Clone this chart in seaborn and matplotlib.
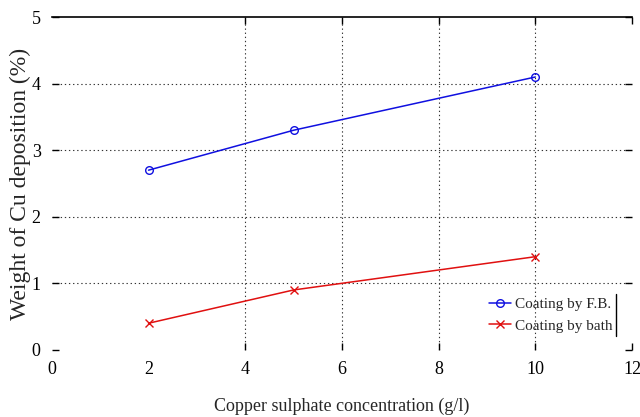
import matplotlib
matplotlib.use('Agg')
import matplotlib.pyplot as plt
import seaborn as sns
from matplotlib.lines import Line2D

# Data
concentration = [2, 5, 10]
coating_fb = [2.7, 3.3, 4.1]
coating_bath = [0.4, 0.9, 1.4]
series_names = ['Coating by F.B.', 'Coating by bath']
x_ticks = [0, 2, 4, 6, 8, 10, 12]
y_ticks = [0, 1, 2, 3, 4, 5]

sns.set_theme(style='white')
plt.rcParams['font.family'] = ['Liberation Serif', 'DejaVu Serif']

series = [
    (coating_fb, '#1010e0', 'o'),
    (coating_bath, '#e01010', 'x'),
]

fig = plt.figure(figsize=(6.4, 4.17), dpi=100)
ax = fig.add_axes([0.081, 0.161, 0.9065, 0.798])

for values, color, marker in series:
    sns.lineplot(x=concentration, y=values, color=color, marker=marker,
                 linewidth=1.1, markersize=5.5, ax=ax)

for line in ax.lines:
    line.set_markeredgecolor(line.get_color())
    line.set_markerfacecolor('none')
    line.set_markeredgewidth(1.0)

ax.set_xlim(0, 12)
ax.set_ylim(0, 5)
ax.set_xticks(x_ticks)
ax.set_yticks(y_ticks)
ax.set_xlabel('Copper sulphate concentration (g/l)', fontsize=13, labelpad=14)
ax.set_ylabel('Weight of Cu deposition (%)', fontsize=17)
ax.yaxis.set_label_coords(-0.036, 0.5)

ax.grid(True, linestyle=(0, (1.2, 2.5)), color='#333333', linewidth=0.8)
ax.tick_params(direction='in', length=5, width=1, colors='black',
               labelsize=13, top=True, right=True, bottom=True, left=True,
               pad=8)

for side in ['left', 'right', 'bottom']:
    ax.spines[side].set_visible(False)
ax.spines['top'].set_color('black')
ax.spines['top'].set_linewidth(1.2)

# hide tick marks / grid at 0 and 2 on x (faded in the reference)
for tick in ax.xaxis.get_major_ticks()[:2]:
    tick.tick1line.set_visible(False)
    tick.tick2line.set_visible(False)
    tick.gridline.set_visible(False)
ax.xaxis.get_major_ticks()[-1].gridline.set_visible(False)
ax.yaxis.get_major_ticks()[0].gridline.set_visible(False)
ax.yaxis.get_major_ticks()[-1].gridline.set_visible(False)

leg = ax.legend(ax.lines[:2], series_names, loc='lower right',
                bbox_to_anchor=(0.985, 0.02), frameon=False, fontsize=11,
                handlelength=1.4, handletextpad=0.3, labelspacing=0.5,
                borderpad=0.2)

fig.canvas.draw()
bb = leg.get_window_extent().transformed(fig.transFigure.inverted())
fig.add_artist(Line2D([bb.x1, bb.x1], [bb.y0, bb.y1], color='black',
                      linewidth=1.0, transform=fig.transFigure))

fig.savefig('out.png', dpi=100, facecolor='white')
